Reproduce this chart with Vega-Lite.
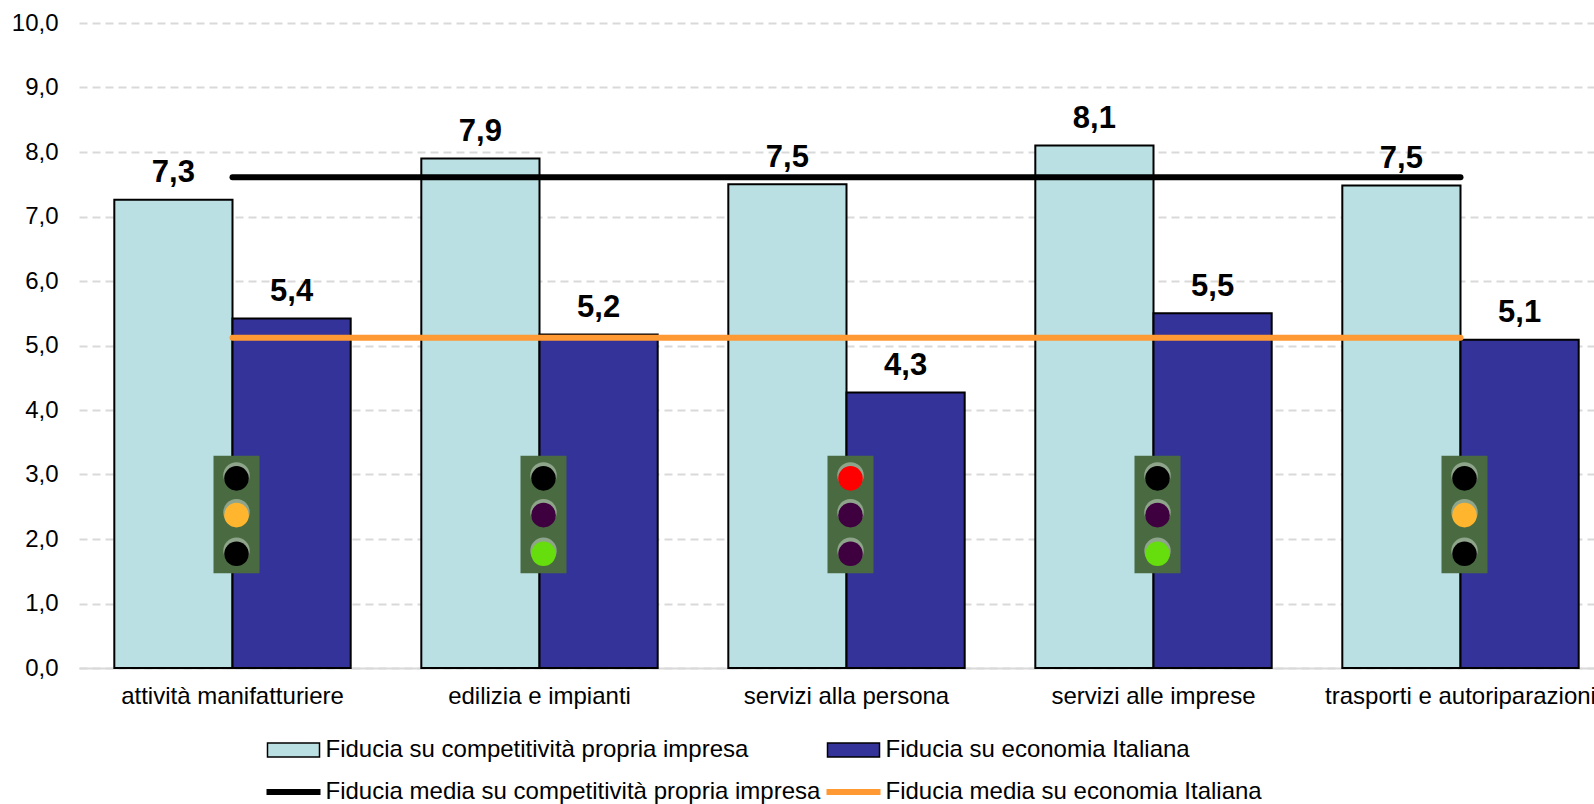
{
"$schema":"https://vega.github.io/schema/vega-lite/v6.json",
"width":1515,"height":645,
"autosize":{"type":"none"},
"padding":{"left":79,"top":23,"right":0,"bottom":136},
"background":"white",
"datasets":{
"bars":[
{"category":"attività manifatturiere","series":"Fiducia su competitività propria impresa","value":7.26},
{"category":"attività manifatturiere","series":"Fiducia su economia Italiana","value":5.42},
{"category":"edilizia e impianti","series":"Fiducia su competitività propria impresa","value":7.9},
{"category":"edilizia e impianti","series":"Fiducia su economia Italiana","value":5.17},
{"category":"servizi alla persona","series":"Fiducia su competitività propria impresa","value":7.5},
{"category":"servizi alla persona","series":"Fiducia su economia Italiana","value":4.27},
{"category":"servizi alle imprese","series":"Fiducia su competitività propria impresa","value":8.1},
{"category":"servizi alle imprese","series":"Fiducia su economia Italiana","value":5.5},
{"category":"trasporti e autoriparazioni","series":"Fiducia su competitività propria impresa","value":7.48},
{"category":"trasporti e autoriparazioni","series":"Fiducia su economia Italiana","value":5.09}
],
"lines":[
{"category":"attività manifatturiere","series":"Fiducia media su competitività propria impresa","value":7.61},
{"category":"edilizia e impianti","series":"Fiducia media su competitività propria impresa","value":7.61},
{"category":"servizi alla persona","series":"Fiducia media su competitività propria impresa","value":7.61},
{"category":"servizi alle imprese","series":"Fiducia media su competitività propria impresa","value":7.61},
{"category":"trasporti e autoriparazioni","series":"Fiducia media su competitività propria impresa","value":7.61},
{"category":"attività manifatturiere","series":"Fiducia media su economia Italiana","value":5.12},
{"category":"edilizia e impianti","series":"Fiducia media su economia Italiana","value":5.12},
{"category":"servizi alla persona","series":"Fiducia media su economia Italiana","value":5.12},
{"category":"servizi alle imprese","series":"Fiducia media su economia Italiana","value":5.12},
{"category":"trasporti e autoriparazioni","series":"Fiducia media su economia Italiana","value":5.12}
],
"lights":[
{"category":"attività manifatturiere","top":3.29,"bottom":1.47},
{"category":"edilizia e impianti","top":3.29,"bottom":1.47},
{"category":"servizi alla persona","top":3.29,"bottom":1.47},
{"category":"servizi alle imprese","top":3.29,"bottom":1.47},
{"category":"trasporti e autoriparazioni","top":3.29,"bottom":1.47}
],
"lamps":[
{"category":"attività manifatturiere","pos":2.94,"state":"off"},
{"category":"attività manifatturiere","pos":2.37,"state":"amber"},
{"category":"attività manifatturiere","pos":1.77,"state":"off"},
{"category":"edilizia e impianti","pos":2.94,"state":"off"},
{"category":"edilizia e impianti","pos":2.37,"state":"dim"},
{"category":"edilizia e impianti","pos":1.77,"state":"green"},
{"category":"servizi alla persona","pos":2.94,"state":"red"},
{"category":"servizi alla persona","pos":2.37,"state":"dim"},
{"category":"servizi alla persona","pos":1.77,"state":"dim"},
{"category":"servizi alle imprese","pos":2.94,"state":"off"},
{"category":"servizi alle imprese","pos":2.37,"state":"dim"},
{"category":"servizi alle imprese","pos":1.77,"state":"green"},
{"category":"trasporti e autoriparazioni","pos":2.94,"state":"off"},
{"category":"trasporti e autoriparazioni","pos":2.37,"state":"amber"},
{"category":"trasporti e autoriparazioni","pos":1.77,"state":"off"}
]
},
"encoding":{
"x":{"field":"category","type":"nominal","sort":null,"title":null,
"scale":{"range":[0,1535],"paddingInner":0.23,"paddingOuter":0.115},
"axis":{"labelAngle":0,"labelFontSize":24,"labelColor":"black","labelPadding":16,"labelLimit":500,"ticks":false,"domainColor":"#D9D9D9","domainWidth":2,"labelOverlap":false,"labelBound":false,"labelFlush":false,"grid":false}}
},
"layer":[
{"data":{"name":"bars"},"mark":{"type":"bar","stroke":"black","strokeWidth":2},
"encoding":{
"xOffset":{"field":"series","type":"nominal","sort":null,"scale":{"paddingInner":0,"paddingOuter":0}},
"y":{"field":"value","type":"quantitative","title":null,"scale":{"domain":[0,10],"nice":false},
"axis":{"values":[0,1,2,3,4,5,6,7,8,9,10],"format":".1f","labelFontSize":24,"labelColor":"black","labelPadding":21,"ticks":false,"domain":false,"grid":true,"gridColor":"#D9D9D9","gridWidth":2,"gridDash":[8,5]}},
"color":{"field":"series","type":"nominal","title":null,
"scale":{"domain":["Fiducia su competitività propria impresa","Fiducia su economia Italiana"],"range":["#BAE0E3","#333399"]},
"legend":{"orient":"none","legendX":202.5,"legendY":715,"direction":"horizontal","padding":0,"symbolSize":100,"symbolType":"M-5.2,-1.4L5.2,-1.4L5.2,1.4L-5.2,1.4Z","symbolStrokeColor":"black","symbolStrokeWidth":1.5,"labelFontSize":24,"labelColor":"black","labelOffset":20,"columnPadding":76,"labelLimit":900,"symbolOpacity":1}
}
}},
{"data":{"name":"lines"},"mark":{"type":"line","strokeWidth":6,"strokeCap":"round"},
"encoding":{"y":{"field":"value","type":"quantitative"},
"stroke":{"field":"series","type":"nominal","title":null,
"scale":{"domain":["Fiducia media su competitività propria impresa","Fiducia media su economia Italiana"],"range":["#000000","#FF9933"]},
"legend":{"orient":"none","legendX":202.5,"legendY":757,"direction":"horizontal","padding":0,"symbolSize":100,"symbolType":"M-5.4,0L5.4,0","symbolStrokeWidth":6,"labelFontSize":24,"labelColor":"black","labelOffset":20,"columnPadding":-6,"labelLimit":900,"symbolOpacity":1}
}}},
{"data":{"name":"bars"},"mark":{"type":"text","font":"Liberation Sans","fontWeight":"bold","fontSize":31,"baseline":"alphabetic","dy":-17.5,"color":"black"},
"encoding":{
"xOffset":{"field":"series","type":"nominal","sort":null},
"y":{"field":"value","type":"quantitative"},
"text":{"field":"value","type":"quantitative","format":".1f"}}},
{"data":{"name":"lights"},"mark":{"type":"bar","width":46,"xOffset":4,"color":"#4A6B42"},
"encoding":{"y":{"field":"top","type":"quantitative"},"y2":{"field":"bottom"}}},
{"data":{"name":"lamps"},"mark":{"type":"circle","size":700,"opacity":1,"xOffset":4,"yOffset":-3,"color":"#8FA58B"},
"encoding":{"y":{"field":"pos","type":"quantitative"}}},
{"data":{"name":"lamps"},"mark":{"type":"circle","size":603,"opacity":1,"xOffset":4,"stroke":null},
"encoding":{"y":{"field":"pos","type":"quantitative"},
"fill":{"field":"state","type":"nominal","legend":null,"scale":{"domain":["off","dim","amber","green","red"],"range":["#000000","#3F003F","#FFB52E","#66DD0C","#FF0000"]}}}}
],
"config":{
"font":"Liberation Sans",
"locale":{"number":{"decimal":",","thousands":".","grouping":[3],"currency":["€",""]}},
"view":{"stroke":null},
"legend":{"labelFont":"Liberation Sans"},
"axis":{"labelFont":"Liberation Sans"}
}
}
